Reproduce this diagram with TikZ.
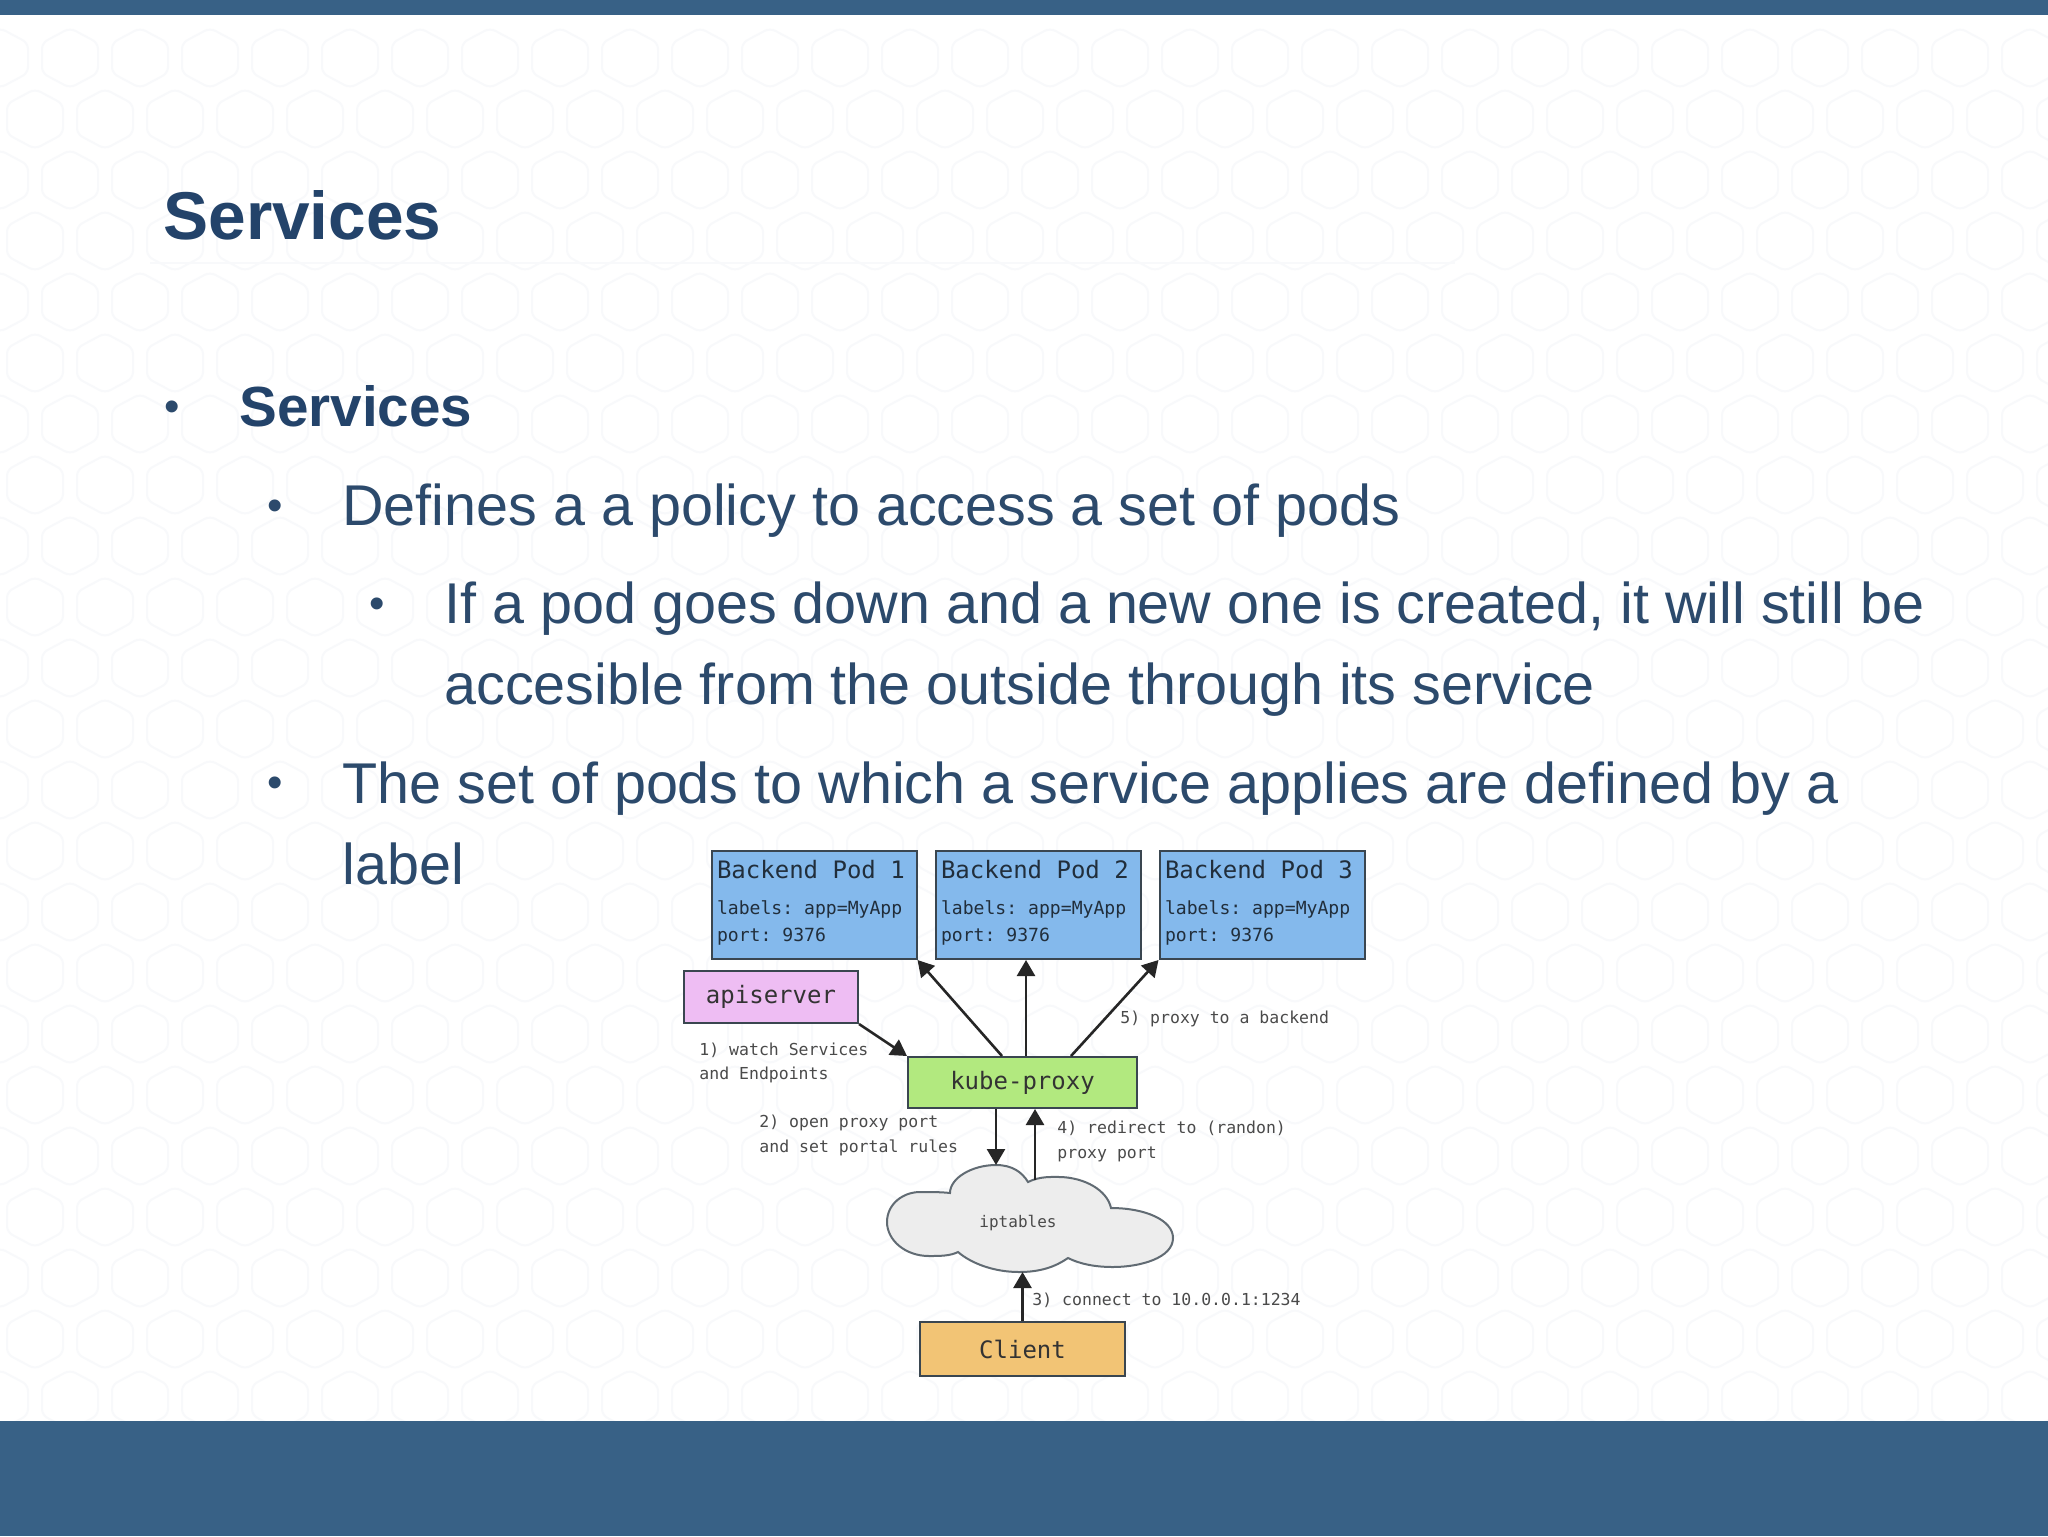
\documentclass[tikz,border=0pt]{standalone}
\usepackage{fontspec}
\setmainfont{Liberation Sans}
\newfontfamily\diagfont{DejaVu Sans Mono}
\usetikzlibrary{arrows.meta,calc}
\definecolor{barblue}{HTML}{386186}
\definecolor{titleblue}{HTML}{23436A}
\definecolor{bodyblue}{HTML}{2C4A6C}
\definecolor{hexgrey}{HTML}{F8F9FB}
\definecolor{podfill}{HTML}{84B9EC}
\definecolor{apifill}{HTML}{EEBDF3}
\definecolor{kubefill}{HTML}{B2E97F}
\definecolor{clientfill}{HTML}{F2C475}
\definecolor{cloudfill}{HTML}{EDEDED}
\definecolor{boxedge}{HTML}{3A4650}
\definecolor{smalltext}{HTML}{4A4A4A}
\newcommand{\podtext}[1]{{\diagfont\fontsize{12}{18}\selectfont\spaceskip=0.602em\xspaceskip=0.602em\relax\mbox{Backend Pod #1}\par}\vspace{4.5pt}{\diagfont\fontsize{9.05}{13.5}\selectfont\spaceskip=0.602em\xspaceskip=0.602em\relax\mbox{labels: app=MyApp}\\\mbox{port: 9376}\par}\vspace{2pt}}
\tikzset{
  bar/.style={fill=barblue,draw=none},
  hexline/.style={draw=hexgrey,line width=1pt,rounded corners=3pt},
  slidetitle/.style={anchor=base west,inner sep=0,text=titleblue,font=\fontsize{33.8}{40}\selectfont\bfseries},
  bodytext/.style={anchor=base west,inner sep=0,text=bodyblue,font=\fontsize{28.75}{40.5}\selectfont,align=left},
  bodybold/.style={bodytext,text=titleblue,font=\fontsize{28.3}{40.5}\selectfont\bfseries},
  bullet/.style={anchor=base,inner sep=0,text=bodyblue,font=\fontsize{22}{24}\selectfont},
  podbox/.style={draw=boxedge,line width=1pt,fill=podfill,minimum width=102.5pt,minimum height=54pt,text width=97pt,inner sep=0,align=left,text=black!75!podfill},
  plainbox/.style={draw=boxedge,line width=1pt,inner sep=0,text=black!80,font=\diagfont\fontsize{12}{14}\selectfont},
  steplabel/.style={anchor=base west,inner sep=0,align=left,text=smalltext,font=\diagfont\fontsize{8.25}{12.4}\selectfont},
  cloudshape/.style={draw=boxedge!80,line width=1pt,fill=cloudfill},
  flow/.style={draw=black!85,line width=1.3pt,-{Triangle[length=8pt,width=9pt]}},
}
\begin{document}
\begin{tikzpicture}[x=0.5pt,y=-0.5pt]
\useasboundingbox (0,0) rectangle (2048,1536);
\fill[white] (0,0) rectangle (2048,1536);
% background hexagons
\foreach \r in {0,...,22}{
  \foreach \c in {0,...,30}{
    \pgfmathsetmacro{\hx}{70*\c+(mod(\r,2)==0 ? 0 : -35)}
    \pgfmathsetmacro{\hy}{58+61*\r}
    \draw[hexline] (\hx,\hy-30) -- (\hx+28,\hy-15) -- (\hx+28,\hy+15) -- (\hx,\hy+30) -- (\hx-28,\hy+15) -- (\hx-28,\hy-15) -- cycle;
  }
}
\fill[bar] (0,0) rectangle (2048,15);
\fill[bar] (0,1421) rectangle (2048,1536);
\draw[draw=hexgrey,line width=1.2pt] (150,263) -- (1455,263);
% slide text
\node[slidetitle] (title) at (163,239) {Services};
\node[bullet] (b1) at (172,421) {•};
\node[bodybold] (t1) at (239,426) {Services};
\node[bullet] (b2) at (275,520) {•};
\node[bodytext] (t2) at (342,525) {Defines a a policy to access a set of pods};
\node[bullet] (b3) at (377,618) {•};
\node[bodytext] (t3) at (444,704) {If a pod goes down and a new one is created, it will still be\\accesible from the outside through its service};
\node[bullet] (b4) at (275,797) {•};
\node[bodytext] (t4) at (342,884) {The set of pods to which a service applies are defined by a\\label};
% diagram
\node[podbox] (pod1) at (814,905) {\podtext{1}};
\node[podbox] (pod2) at (1038,905) {\podtext{2}};
\node[podbox] (pod3) at (1262,905) {\podtext{3}};
\node[plainbox,fill=apifill,minimum width=87pt,minimum height=26pt] (api) at (771,997) {apiserver};
\node[plainbox,fill=kubefill,minimum width=114.5pt,minimum height=25.5pt] (kube) at (1022.5,1082.5) {kube-proxy};
\node[plainbox,fill=clientfill,minimum width=102.5pt,minimum height=27pt] (client) at (1022.5,1349) {Client};
% cloud
\draw[cloudshape] (950,1193)
  .. controls (950,1178) and (972,1165) .. (996,1165)
  .. controls (1012,1165) and (1022,1172) .. (1028,1182)
  .. controls (1040,1176) and (1052,1177) .. (1061,1177)
  .. controls (1085,1178) and (1107,1190) .. (1111,1208)
  .. controls (1145,1208) and (1173,1220) .. (1173,1238)
  .. controls (1173,1258) and (1140,1267) .. (1113,1267)
  .. controls (1095,1267) and (1080,1264) .. (1068,1258)
  .. controls (1055,1267) and (1040,1272) .. (1019,1272)
  .. controls (995,1272) and (972,1264) .. (958,1252)
  .. controls (950,1256) and (940,1256) .. (929,1256)
  .. controls (905,1256) and (887,1240) .. (887,1222)
  .. controls (887,1204) and (903,1192) .. (920,1192)
  .. controls (930,1192) and (942,1192) .. (950,1193) -- cycle;
\node[inner sep=0,text=smalltext,font=\diagfont\fontsize{8}{10}\selectfont] (ipt) at (1018,1223) {iptables};
\coordinate (cloudA) at (996,1165);
\coordinate (cloudB) at (1035,1180);
\coordinate (cloudC) at (1022.5,1272);
% connectors
\draw[flow] (api.south east) -- (kube.north west);
\draw[flow] ([xshift=-10.25pt]kube.north) -- (pod1.south east);
\draw[flow] ([xshift=1.75pt]kube.north) -- ([xshift=-6pt]pod2.south);
\draw[flow] ([xshift=24.25pt]kube.north) -- (pod3.south west);
\draw[flow] (kube.south -| cloudA) -- (cloudA);
\draw[flow] (cloudB) -- (kube.south -| cloudB);
\draw[flow] (client.north) -- (cloudC);
% step labels
\node[steplabel] (s1) at (699,1055) {1) watch Services};
\node[steplabel] (s1b) at (699,1079) {and Endpoints};
\node[steplabel] (s2) at (759,1127) {2) open proxy port};
\node[steplabel] (s2b) at (759,1152) {and set portal rules};
\node[steplabel] (s4) at (1057,1133) {4) redirect to (randon)};
\node[steplabel] (s4b) at (1057,1158) {proxy port};
\node[steplabel] (s5) at (1120,1023) {5) proxy to a backend};
\node[steplabel] (s3) at (1032,1305) {3) connect to 10.0.0.1:1234};
\end{tikzpicture}
\end{document}
